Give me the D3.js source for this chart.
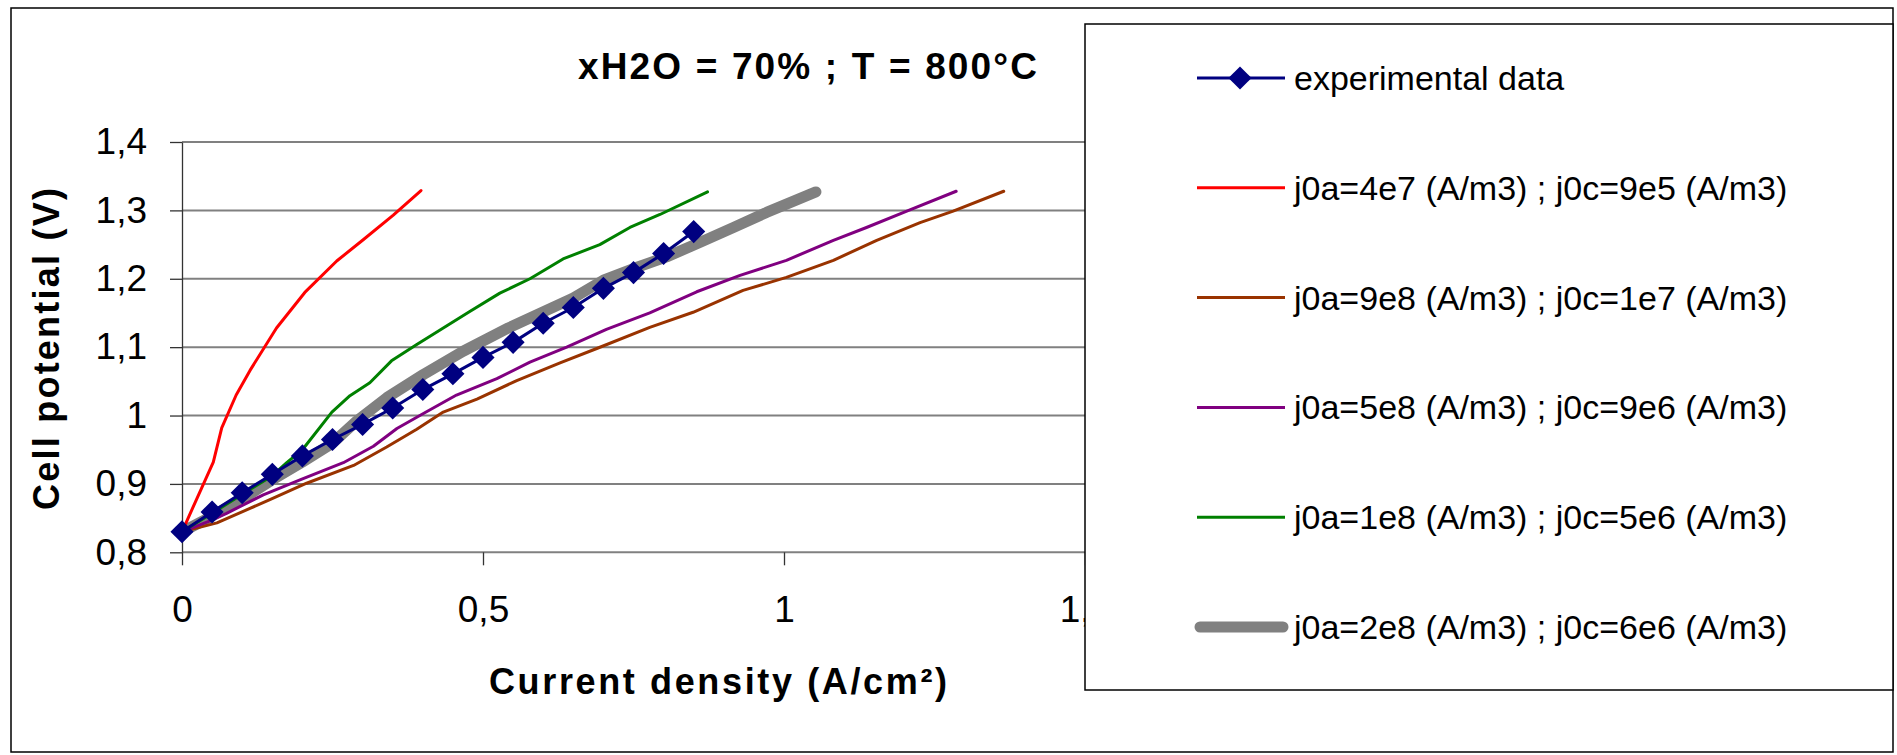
<!DOCTYPE html>
<html>
<head>
<meta charset="utf-8">
<script src="https://cdn.jsdelivr.net/npm/d3@7"></script>
<style>
  body { margin: 0; background: #fff; }
  text { font-family: "Liberation Sans", Arial, sans-serif; fill: #000; }
</style>
</head>
<body>
<svg id="chart" width="1897" height="755"></svg>
<script>
// chart values
const xTicks = [0, 0.5, 1, 1.5];
const yTicks = [0.8, 0.9, 1.0, 1.1, 1.2, 1.3, 1.4];

const expX = [0, 0.05, 0.1, 0.15, 0.2, 0.25, 0.3, 0.35, 0.4, 0.45, 0.5, 0.55, 0.6, 0.65, 0.7, 0.75, 0.8, 0.85];
const expV = [0.83, 0.859, 0.887, 0.914, 0.941, 0.965, 0.987, 1.011, 1.038, 1.061, 1.085, 1.107, 1.135, 1.158, 1.186, 1.209, 1.237, 1.269];

const redX = [0, 0.052, 0.066, 0.09, 0.113, 0.157, 0.204, 0.257, 0.301, 0.351, 0.397];
const redV = [0.83, 0.932, 0.982, 1.03, 1.066, 1.128, 1.18, 1.226, 1.257, 1.293, 1.329];

const brownX = [0, 0.058, 0.146, 0.207, 0.285, 0.34, 0.39, 0.434, 0.49, 0.556, 0.628, 0.689, 0.777, 0.849, 0.932, 1.004, 1.082, 1.154, 1.226, 1.281, 1.365];
const brownV = [0.83, 0.843, 0.877, 0.901, 0.927, 0.954, 0.98, 1.005, 1.024, 1.051, 1.077, 1.098, 1.129, 1.151, 1.183, 1.202, 1.227, 1.256, 1.282, 1.299, 1.328];

const purpleX = [0, 0.0465, 0.074, 0.135, 0.196, 0.268, 0.318, 0.357, 0.401, 0.456, 0.523, 0.578, 0.639, 0.705, 0.777, 0.855, 0.927, 1.004, 1.082, 1.137, 1.204, 1.286];
const purpleV = [0.83, 0.846, 0.857, 0.884, 0.906, 0.931, 0.955, 0.981, 1.003, 1.03, 1.054, 1.078, 1.1, 1.126, 1.15, 1.181, 1.205, 1.227, 1.256, 1.275, 1.299, 1.328];

const greenX = [0, 0.05, 0.1, 0.15, 0.174, 0.2, 0.249, 0.279, 0.312, 0.348, 0.39, 0.434, 0.478, 0.528, 0.578, 0.633, 0.694, 0.744, 0.794, 0.873];
const greenV = [0.83, 0.857, 0.885, 0.912, 0.931, 0.95, 1.005, 1.029, 1.048, 1.08, 1.104, 1.128, 1.152, 1.179, 1.2, 1.229, 1.25, 1.275, 1.294, 1.327];

const grayX = [0, 0.05, 0.1, 0.148, 0.2, 0.249, 0.29, 0.34, 0.401, 0.467, 0.542, 0.65, 0.7, 0.75, 0.805, 0.86, 0.916, 0.971, 1.053];
const grayV = [0.83, 0.853, 0.878, 0.905, 0.932, 0.959, 0.992, 1.026, 1.06, 1.094, 1.128, 1.172, 1.198, 1.215, 1.232, 1.253, 1.275, 1.297, 1.327];

const seriesNames = [
  "experimental data",
  "j0a=4e7 (A/m3) ; j0c=9e5 (A/m3)",
  "j0a=9e8 (A/m3) ; j0c=1e7 (A/m3)",
  "j0a=5e8 (A/m3) ; j0c=9e6 (A/m3)",
  "j0a=1e8 (A/m3) ; j0c=5e6 (A/m3)",
  "j0a=2e8 (A/m3) ; j0c=6e6 (A/m3)"
];
const seriesColors = ["#000080", "#ff0000", "#993300", "#800080", "#008000", "#808080"];
const seriesWidths = [3, 3, 3, 3, 3, 11];

const svg = d3.select("#chart");

const x = d3.scaleLinear().domain([0, 1.5]).range([182, 1085]);
const y = d3.scaleLinear().domain([0.8, 1.4]).range([552.3, 142]);

const fmt = d => String(+d.toFixed(1)).replace(".", ",");

function zip(xs, vs) {
  return xs.map((d, i) => [d, vs[i]]);
}

// outer frame
svg.append("rect")
  .attr("x", 11).attr("y", 8)
  .attr("width", 1882).attr("height", 744)
  .attr("fill", "#fff").attr("stroke", "#000").attr("stroke-width", 1.5);

// gridlines
svg.append("g")
  .selectAll("line")
  .data(yTicks)
  .enter().append("line")
  .attr("x1", x(0)).attr("x2", x(1.5))
  .attr("y1", d => y(d)).attr("y2", d => y(d))
  .attr("stroke", "#808080")
  .attr("stroke-width", 2);

// axes
const yAxis = svg.append("g")
  .attr("transform", "translate(" + x(0) + ",0)")
  .call(d3.axisLeft(y).tickValues(yTicks).tickFormat(fmt)
    .tickSize(12).tickSizeOuter(0).tickPadding(23));

const xAxis = svg.append("g")
  .attr("transform", "translate(0," + y(0.8) + ")")
  .call(d3.axisBottom(x).tickValues(xTicks).tickFormat(fmt)
    .tickSize(13).tickSizeOuter(0).tickPadding(30));
xAxis.select(".domain").remove();

[yAxis, xAxis].forEach(function (g) {
  g.selectAll("line").attr("stroke", "#333").attr("stroke-width", 1.3);
  g.selectAll(".domain").attr("stroke", "#333").attr("stroke-width", 1.3);
  g.selectAll("text")
    .style("font-family", '"Liberation Sans", Arial, sans-serif')
    .style("font-size", "37px")
    .attr("fill", "#000");
});

// series lines
const line = d3.line().x(d => x(d[0])).y(d => y(d[1]));

const lineData = [
  [grayX, grayV, 5],
  [brownX, brownV, 2],
  [purpleX, purpleV, 3],
  [greenX, greenV, 4],
  [redX, redV, 1],
  [expX, expV, 0]
];

svg.append("g")
  .selectAll("path")
  .data(lineData)
  .enter().append("path")
  .attr("d", d => line(zip(d[0], d[1])))
  .attr("fill", "none")
  .attr("stroke", d => seriesColors[d[2]])
  .attr("stroke-width", d => seriesWidths[d[2]])
  .attr("stroke-linecap", "round")
  .attr("stroke-linejoin", "round");

// experimental markers
const diamond = d3.symbol().type(d3.symbolDiamond2).size(340);
svg.append("g")
  .selectAll("path")
  .data(zip(expX, expV))
  .enter().append("path")
  .attr("d", diamond)
  .attr("transform", d => "translate(" + x(d[0]) + "," + y(d[1]) + ")")
  .attr("fill", "#000080");

// title and axis titles
svg.append("text")
  .attr("x", 578).attr("y", 79)
  .attr("textLength", 459)
  .style("font-size", "37px").style("font-weight", "bold")
  .text("xH2O = 70% ; T = 800°C");

svg.append("text")
  .attr("x", 489).attr("y", 694)
  .attr("textLength", 458)
  .style("font-size", "36px").style("font-weight", "bold")
  .text("Current density (A/cm²)");

svg.append("text")
  .attr("transform", "translate(59,510) rotate(-90)")
  .attr("textLength", 322)
  .style("font-size", "36px").style("font-weight", "bold")
  .text("Cell potential (V)");

// legend
svg.append("rect")
  .attr("x", 1085).attr("y", 24)
  .attr("width", 808).attr("height", 666)
  .attr("fill", "#fff").attr("stroke", "#000").attr("stroke-width", 1.5);

const rowY = d3.scaleLinear().domain([0, 5]).range([78, 627]);

const leg = svg.append("g")
  .selectAll("g")
  .data(seriesNames)
  .enter().append("g")
  .attr("transform", (d, i) => "translate(0," + rowY(i) + ")");

leg.append("line")
  .attr("x1", (d, i) => i === 5 ? 1200 : 1197)
  .attr("x2", (d, i) => i === 5 ? 1283 : 1285)
  .attr("stroke", (d, i) => seriesColors[i])
  .attr("stroke-width", (d, i) => seriesWidths[i])
  .attr("stroke-linecap", (d, i) => i === 5 ? "round" : "butt");

leg.filter((d, i) => i === 0).append("path")
  .attr("d", diamond)
  .attr("transform", "translate(1240,0)")
  .attr("fill", "#000080");

leg.append("text")
  .attr("x", 1294).attr("y", 12)
  .style("font-size", "34px")
  .text(d => d);
</script>
</body>
</html>
